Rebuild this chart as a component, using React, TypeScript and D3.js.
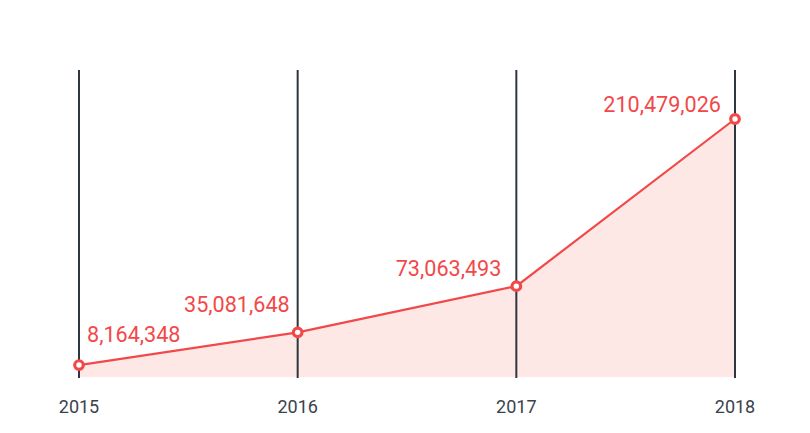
import React from "react";
import * as d3 from "d3";

// chart data
const years = ["2015", "2016", "2017", "2018"];
const totals = [8164348, 35081648, 73063493, 210479026];

// label placement next to each point (layout only)
const labelPlace = [
    { dx: 8, dy: -23, anchor: "start" },
    { dx: -8, dy: -20, anchor: "end" },
    { dx: -15, dy: -10, anchor: "end" },
    { dx: -14, dy: -7, anchor: "end" },
];

const width = 810;
const height = 433;
const red = "#f2484a";
const dark = "#2e3640";

const App = () => {
    const x = d3.scalePoint<string>().domain(years).range([79, 735]);
    const y = d3.scaleLinear().domain([0, d3.max(totals) as number]).range([375, 119]);

    const rows = years.map((yr, i) => ({ yr, v: totals[i] }));
    const bottom = 377;

    const area = d3
        .area<any>()
        .x((d) => x(d.yr) as number)
        .y0(bottom)
        .y1((d) => y(d.v));
    const line = d3
        .line<any>()
        .x((d) => x(d.yr) as number)
        .y((d) => y(d.v));

    const fmt = d3.format(",");

    return (
        <svg
            width={width}
            height={height}
            style={{ position: "absolute", top: 0, left: 0, background: "#fff" }}
            fontFamily="Roboto, sans-serif"
        >
            <path d={area(rows) || ""} fill="#fde8e6" />
            {years.map((yr) => (
                <line
                    key={yr}
                    x1={x(yr)}
                    x2={x(yr)}
                    y1={70}
                    y2={378}
                    stroke={dark}
                    strokeWidth={2}
                />
            ))}
            <path d={line(rows) || ""} fill="none" stroke={red} strokeWidth={2.2} />
            {rows.map((d) => (
                <circle
                    key={d.yr}
                    cx={x(d.yr)}
                    cy={y(d.v)}
                    r={4.3}
                    fill="#fff"
                    stroke={red}
                    strokeWidth={3.2}
                />
            ))}
            {rows.map((d, i) => (
                <text
                    key={d.yr}
                    x={(x(d.yr) as number) + labelPlace[i].dx}
                    y={y(d.v) + labelPlace[i].dy}
                    textAnchor={labelPlace[i].anchor}
                    fill={red}
                    fontSize={21.6}
                >
                    {fmt(d.v)}
                </text>
            ))}
            {years.map((yr) => (
                <text
                    key={yr}
                    x={x(yr)}
                    y={413}
                    textAnchor="middle"
                    fill="#3a424b"
                    fontSize={18}
                >
                    {yr}
                </text>
            ))}
        </svg>
    );
};

export default App;
